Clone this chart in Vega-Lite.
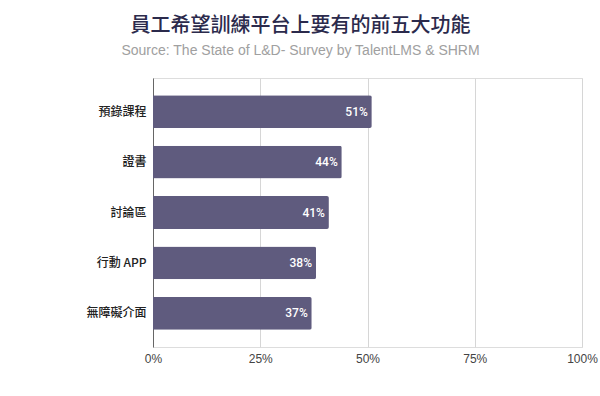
{
  "$schema": "https://vega.github.io/schema/vega-lite/v6.json",
  "autosize": {"type": "none"},
  "padding": {"left": 153, "top": 78, "right": 18, "bottom": 49},
  "width": 429,
  "height": 269,
  "background": "white",
  "title": {
    "text": "員工希望訓練平台上要有的前五大功能",
    "subtitle": "Source: The State of L&D- Survey by TalentLMS & SHRM",
    "anchor": "middle",
    "dx": -67,
    "offset": 20,
    "font": "Noto Sans CJK TC",
    "fontSize": 20,
    "fontWeight": 500,
    "color": "#2b2a4c",
    "subtitleFont": "Liberation Sans",
    "subtitleFontSize": 14,
    "subtitleColor": "#a0a0a0",
    "subtitlePadding": 8
  },
  "data": {
    "values": [
      {"feature": "預錄課程", "pct": 51},
      {"feature": "證書", "pct": 44},
      {"feature": "討論區", "pct": 41},
      {"feature": "行動 APP", "pct": 38},
      {"feature": "無障礙介面", "pct": 37}
    ]
  },
  "encoding": {
    "y": {
      "field": "feature",
      "type": "nominal",
      "sort": null,
      "scale": {"paddingInner": 0.35, "paddingOuter": 0.34},
      "axis": {
        "title": null,
        "ticks": false,
        "domain": true,
        "domainColor": "#666666",
        "labelFont": "Noto Sans CJK TC",
        "labelFontSize": 12,
        "labelFontWeight": 500,
        "labelColor": "#222222",
        "labelPadding": 7
      }
    },
    "x": {
      "field": "pct",
      "type": "quantitative",
      "scale": {"domain": [0, 100]},
      "axis": {
        "title": null,
        "values": [0, 25, 50, 75, 100],
        "labelExpr": "datum.value + '%'",
        "domain": false,
        "ticks": false,
        "grid": true,
        "gridColor": "#d6d6d6",
        "labelFont": "Liberation Sans",
        "labelFontSize": 12,
        "labelColor": "#444444",
        "labelPadding": 6,
        "labelFlush": false
      }
    }
  },
  "layer": [
    {
      "mark": {"type": "bar", "color": "#5f5b7e", "cornerRadiusEnd": 2}
    },
    {
      "transform": [{"calculate": "datum.pct + '%'", "as": "label"}],
      "mark": {"type": "text", "align": "right", "dx": -4, "color": "white", "font": "Roboto", "fontSize": 12, "fontWeight": 500},
      "encoding": {"text": {"field": "label", "type": "nominal"}}
    }
  ]
}
